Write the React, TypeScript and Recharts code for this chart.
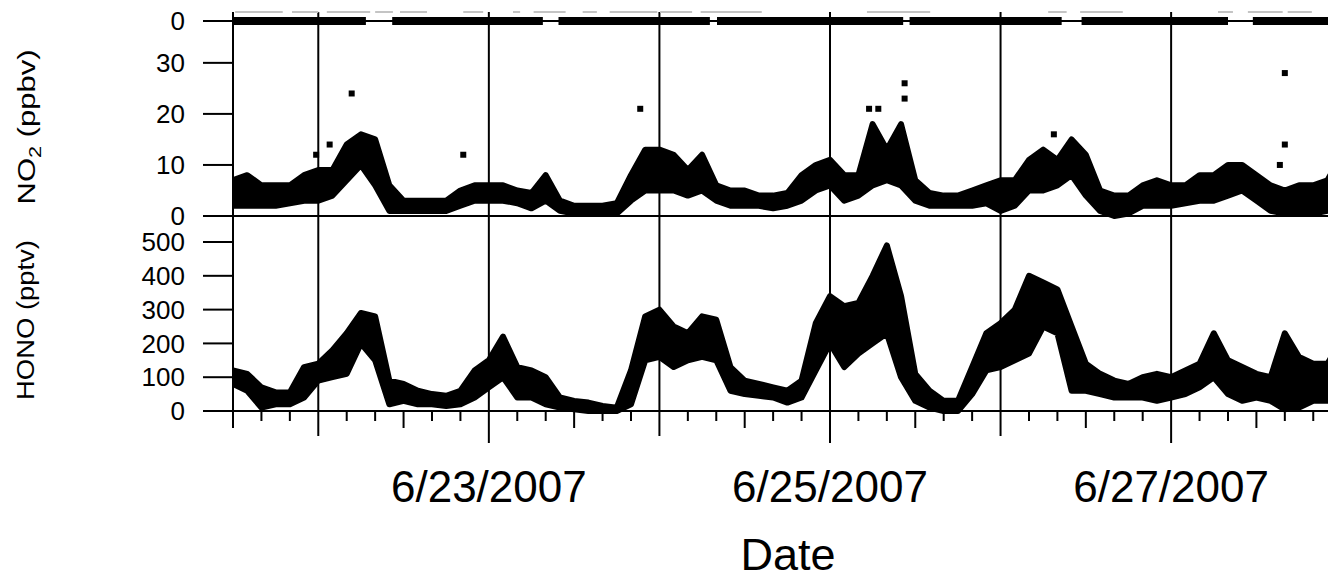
import React from "react";
import {
  Area, ComposedChart, Line, ReferenceLine, Scatter, XAxis, YAxis,
} from "recharts";

// Time axis: hours since 6/21/2007 12:00, sampled every 2 h.
const HOURS = Array.from({ length: 79 }, (_, i) => i * 2);
const X_DOMAIN: [number, number] = [0, 155.2];
const TIME_TICKS = Array.from({ length: 39 }, (_, i) => i * 4);
const DAY_LINES = [12, 36, 60, 84, 108, 132];
const LABEL_HOURS = [36, 84, 132];
const DATE_LABELS = ["6/23/2007", "6/25/2007", "6/27/2007"];

// NO2 (ppbv): lower / upper edge of the dense point band.
const NO2_LO = [
  2, 2, 2, 2, 2.5, 3, 3, 4, 7, 10,
  6, 1, 1, 1, 1, 1, 2, 3, 3, 3,
  2.5, 1.5, 3, 1, 0.5, 0.5, 0.5, 0.5, 3, 5,
  5, 5, 4, 5, 3, 2, 2, 2, 1.5, 2,
  3, 5, 6, 3, 4, 6, 7, 6, 3, 2,
  2, 2, 2, 2.5, 1, 2, 5, 5, 6, 8,
  4, 1, 0, 0.5, 2, 2, 2, 2.5, 3, 3,
  4, 5, 3, 1, 0.5, 0.5, 0.5, 1, 5,
];
const NO2_HI = [
  7, 8, 6, 6, 6, 8, 9, 9, 14, 16,
  15, 6, 3, 3, 3, 3, 5, 6, 6, 6,
  5, 4.5, 8, 3, 2, 2, 2, 2.5, 8, 13,
  13, 12, 9, 12, 6, 5, 5, 4, 4, 4.5,
  8, 10, 11, 8, 8, 18, 13, 18, 7, 4.5,
  4, 4, 5, 6, 7, 7, 11, 13, 11, 15,
  12, 5, 4, 4, 6, 7, 6, 6, 8, 8,
  10, 10, 8, 6, 5, 6, 6, 7, 12,
];
const NO2_SPIKES = [
  { h: 11.7, v: 12 }, { h: 13.6, v: 14 }, { h: 16.7, v: 24 }, { h: 32.4, v: 12 },
  { h: 57.3, v: 21 }, { h: 89.5, v: 21 }, { h: 90.8, v: 21 }, { h: 94.5, v: 26 },
  { h: 94.5, v: 23 }, { h: 115.5, v: 16 }, { h: 147.3, v: 10 }, { h: 148, v: 14 },
  { h: 148, v: 28 },
];

// HONO (pptv): lower / upper edge of the band.
const HONO_LO = [
  80, 60, 10, 20, 20, 40, 90, 100, 110, 200,
  150, 20, 30, 20, 20, 15, 20, 40, 70, 100,
  40, 40, 20, 10, 5, 0, 0, 0, 20, 150,
  160, 130, 150, 160, 150, 60, 50, 45, 40, 25,
  40, 120, 200, 130, 170, 200, 230, 100, 30, 10,
  0, 0, 50, 120, 130, 150, 170, 250, 230, 60,
  60, 50, 40, 40, 40, 30, 40, 50, 70, 100,
  50, 30, 40, 30, 5, 10, 30, 30, 140,
];
const HONO_HI = [
  120, 110, 70, 55, 55, 130, 140, 180, 230, 290,
  280, 90, 80, 60, 50, 45, 60, 120, 150, 220,
  130, 120, 100, 40, 30, 25, 15, 10, 120, 280,
  300, 250, 230, 280, 270, 130, 90, 80, 70, 60,
  90, 260, 340, 310, 320, 400, 490, 340, 110, 60,
  30, 30, 130, 230, 260, 300, 400, 380, 360, 250,
  140, 110, 90, 80, 100, 110, 100, 120, 140, 230,
  150, 130, 110, 100, 230, 160, 140, 140, 210,
];

// Top strip: periods with data (black, at 0) and faint marks at the top edge.
const FLAG_SEGMENTS = [
  [0, 18.7], [22.4, 43.6], [45.8, 67.1], [68.1, 94.3],
  [95.2, 116.6], [119.4, 140.0], [143.5, 156],
];
const FAINT_SEGMENTS = [
  [0.3, 7.0], [8.3, 12.0], [13.2, 19.3], [20.0, 22.5], [23.5, 27.3],
  [32.4, 35.2], [39.4, 40.4], [42.3, 46.8], [49.2, 51.2], [53.0, 59.7],
  [60.1, 64.6], [65.8, 74.4], [89.2, 98.1], [114.7, 117.3], [119.2, 125.2],
  [138.6, 140.7], [142.8, 147.7], [148.4, 151.8],
];

const W = 1328;
const H = 568;
const FONT = "'Liberation Sans', Arial, sans-serif";
const INK = "#000";

const no2Data = HOURS.map((h, i) => ({ h, no2: [NO2_LO[i], NO2_HI[i]] }));
const honoData = HOURS.map((h, i) => ({ h, hono: [HONO_LO[i], HONO_HI[i]] }));
const segData = (segs: number[][], v: number) =>
  segs.flatMap(([s, e]) => [{ h: s, v }, { h: e, v }, { h: e + 0.001, v: null }]);

const Square = (props: any) => (
  <rect x={props.cx - 3} y={props.cy - 3} width={6} height={6} fill={INK} />
);

function TimeTick({ x, y, payload }: any) {
  const h = payload.value;
  const idx = LABEL_HOURS.indexOf(h);
  const len = idx >= 0 ? 32 : h % 24 === 12 ? 25 : h % 24 === 0 ? 17 : 10;
  return (
    <g>
      <line x1={x} x2={x} y1={y} y2={y + len} stroke={INK} strokeWidth={2} />
      {idx >= 0 && (
        <text x={x} y={y + 91} textAnchor="middle" fontSize={44} fill={INK} fontFamily={FONT}>
          {DATE_LABELS[idx]}
        </text>
      )}
    </g>
  );
}

const yTick = { fontSize: 26, fill: INK, fontFamily: FONT };
const overlay: React.CSSProperties = { position: "absolute", left: 0, top: 0 };

export default function App() {
  return (
    <div style={{ position: "relative", width: W, height: H, fontFamily: FONT }}>
      {/* HONO panel + time axis */}
      <div style={overlay}>
        <ComposedChart width={W} height={H} data={honoData} margin={{ top: 208, right: 0, bottom: 5, left: 125 }}>
          <XAxis
            dataKey="h" type="number" domain={X_DOMAIN} ticks={TIME_TICKS} allowDataOverflow
            height={160} tickSize={0} tickMargin={0} tickLine={false} tick={<TimeTick />}
            axisLine={{ stroke: INK, strokeWidth: 2 }} interval={0}
            label={{
              content: () => (
                <text x={780} y={562} textAnchor="middle" fontSize={45} fill={INK} fontFamily={FONT}>Date</text>
              ),
            }}
          />
          <YAxis
            type="number" domain={[0, 577]} ticks={[0, 100, 200, 300, 400, 500]} width={100}
            tickSize={30} tickMargin={18} tick={yTick} interval={0}
            tickLine={{ stroke: INK, strokeWidth: 2 }} axisLine={{ stroke: INK, strokeWidth: 2 }}
            label={{
              content: () => (
                <text x={26} y={312} transform="rotate(-90 26 312)" textAnchor="middle" fontSize={23}
                  textLength={160} lengthAdjust="spacingAndGlyphs" fill={INK} fontFamily={FONT}>
                  HONO (pptv)
                </text>
              ),
            }}
          />
          {DAY_LINES.map((d) => <ReferenceLine key={d} x={d} stroke={INK} strokeWidth={2} />)}
          <Area type="linear" dataKey="hono" stroke={INK} strokeWidth={6} strokeLinejoin="round" fill={INK} fillOpacity={1} isAnimationActive={false} />
        </ComposedChart>
      </div>

      {/* NO2 panel */}
      <div style={overlay}>
        <ComposedChart width={W} height={H} data={no2Data} margin={{ top: 13, right: 0, bottom: 360, left: 125 }}>
          <XAxis dataKey="h" type="number" domain={X_DOMAIN} allowDataOverflow hide />
          <YAxis
            type="number" domain={[0, 38.2]} ticks={[0, 10, 20, 30]} width={100}
            tickSize={30} tickMargin={18} tick={yTick} interval={0}
            tickLine={{ stroke: INK, strokeWidth: 2 }} axisLine={{ stroke: INK, strokeWidth: 2 }}
            label={{
              content: () => (
                <text x={27} y={119} transform="rotate(-90 27 119)" textAnchor="middle" fontSize={23}
                  textLength={155} lengthAdjust="spacingAndGlyphs" fill={INK} fontFamily={FONT}>
                  NO<tspan dy={6} fontSize={16}>2</tspan><tspan dy={-6}> (ppbv)</tspan>
                </text>
              ),
            }}
          />
          <ReferenceLine y={0} stroke={INK} strokeWidth={2} />
          {DAY_LINES.map((d) => <ReferenceLine key={d} x={d} stroke={INK} strokeWidth={2} />)}
          <Area type="linear" dataKey="no2" stroke={INK} strokeWidth={6} strokeLinejoin="round" fill={INK} fillOpacity={1} isAnimationActive={false} />
          <Scatter data={NO2_SPIKES} dataKey="v" shape={<Square />} isAnimationActive={false} />
        </ComposedChart>
      </div>

      {/* Top strip */}
      <div style={overlay}>
        <ComposedChart width={W} height={H} margin={{ top: 4, right: 0, bottom: 555, left: 125 }}>
          <XAxis dataKey="h" type="number" domain={X_DOMAIN} allowDataOverflow hide />
          <YAxis
            type="number" domain={[0, 1]} ticks={[0]} width={100}
            tickSize={30} tickMargin={18} tick={yTick} interval={0}
            tickLine={{ stroke: INK, strokeWidth: 2 }} axisLine={{ stroke: INK, strokeWidth: 2 }}
          />
          <ReferenceLine y={0} stroke={INK} strokeWidth={2} />
          {DAY_LINES.map((d) => <ReferenceLine key={d} x={d} stroke={INK} strokeWidth={2} />)}
          <Line data={segData(FAINT_SEGMENTS, 1)} dataKey="v" stroke="#c4c4c4" strokeWidth={2} dot={false} isAnimationActive={false} />
          <Line data={segData(FLAG_SEGMENTS, 0)} dataKey="v" stroke={INK} strokeWidth={8} dot={false} isAnimationActive={false} />
        </ComposedChart>
      </div>
    </div>
  );
}
